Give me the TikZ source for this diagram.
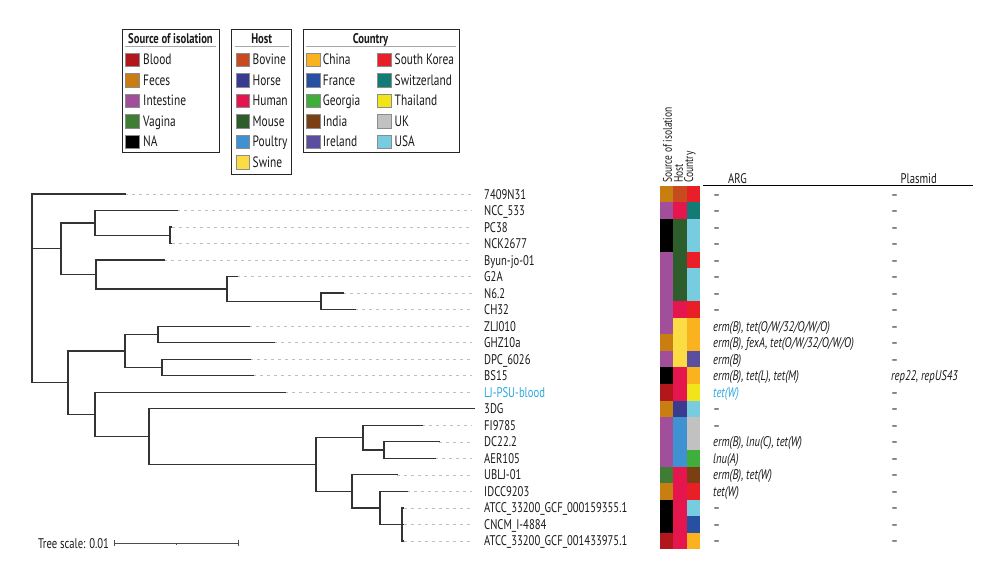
\documentclass[tikz,border=0pt]{standalone}
\usepackage{fontspec}
\setmainfont{PT Sans}[FakeStretch=0.76]
\definecolor{cBlood}{HTML}{B2171C}
\definecolor{cFeces}{HTML}{C97E12}
\definecolor{cIntestine}{HTML}{A24F9B}
\definecolor{cVagina}{HTML}{3E7D33}
\definecolor{cNA}{HTML}{000000}
\definecolor{cBovine}{HTML}{C84B1F}
\definecolor{cHorse}{HTML}{3B3A91}
\definecolor{cHuman}{HTML}{E5154E}
\definecolor{cMouse}{HTML}{2D5D2B}
\definecolor{cPoultry}{HTML}{3F92D2}
\definecolor{cSwine}{HTML}{FCDC45}
\definecolor{cChina}{HTML}{FBB21F}
\definecolor{cFrance}{HTML}{2750A3}
\definecolor{cGeorgia}{HTML}{3FAE3A}
\definecolor{cIndia}{HTML}{7B3F14}
\definecolor{cIreland}{HTML}{5A4E9F}
\definecolor{cSKorea}{HTML}{E81F27}
\definecolor{cSwitz}{HTML}{137B76}
\definecolor{cThai}{HTML}{F1E51A}
\definecolor{cUK}{HTML}{C1C1C1}
\definecolor{cUSA}{HTML}{78CCE0}
\definecolor{cHL}{HTML}{2AA8E0}
\definecolor{txt}{HTML}{1A1A1A}
\definecolor{treecol}{HTML}{333333}
\newcommand\tbranch[2]{\draw[branch] (#1 |- #2) -- (#2);}
\newcommand\tvert[3]{\draw[branch] (#1 |- #2) -- (#1 |- #3);}
\begin{document}
\begin{tikzpicture}[x=1pt,y=-1pt,
  branch/.style={draw=treecol, line width=1.25pt, line cap=rect},
  leader/.style={draw=black!25, line width=0.6pt, dash pattern=on 3pt off 4pt, shorten >=8pt},
  leaf/.style={anchor=base west, inner sep=0pt, text=txt, font=\fontsize{14}{16}\selectfont},
  argtxt/.style={anchor=base west, inner sep=0pt, text=txt, font=\fontsize{14}{16}\selectfont\itshape},
  dashtxt/.style={anchor=base west, inner sep=0pt, text=txt, font=\fontsize{14}{16}\selectfont},
  hdr/.style={anchor=base west, inner sep=0pt, text=txt, font=\fontsize{14}{16}\selectfont},
  colhdr/.style={anchor=west, rotate=90, inner sep=0pt, text=txt, font=\fontsize{12.5}{14}\selectfont},
  legbox/.style={draw=black!85, line width=0.9pt},
  legtitle/.style={anchor=base, inner sep=0pt, text=txt, font=\fontsize{14}{16}\selectfont\bfseries},
  legtxt/.style={anchor=base west, inner sep=0pt, text=txt, font=\fontsize{15}{17}\selectfont},
  swatch/.style={draw=black!45, line width=0.5pt, minimum width=13.5pt, minimum height=13.5pt, inner sep=0pt},
  rule/.style={draw=black!35, line width=0.8pt}
]
\useasboundingbox (0,0) rectangle (1000,584);

% ---------------- legends ----------------
\draw[legbox] (122,29) rectangle (219,152);
\node[legtitle] (lt1) at (170.5,43) {Source of isolation};
\coordinate (u1a) at (125,46.7); \coordinate (u1b) at (216,46.7);
\draw[rule] (u1a) -- (u1b);
\node[swatch, fill=cBlood]     (s11) at (132,59.5)  {};
\node[swatch, fill=cFeces]     (s12) at (132,80.0)  {};
\node[swatch, fill=cIntestine] (s13) at (132,100.5) {};
\node[swatch, fill=cVagina]    (s14) at (132,121.0) {};
\node[swatch, fill=cNA]        (s15) at (132,141.5) {};
\node[legtxt] (e11) at (143,64.8)  {Blood};
\node[legtxt] (e12) at (143,85.3)  {Feces};
\node[legtxt] (e13) at (143,105.8) {Intestine};
\node[legtxt] (e14) at (143,126.3) {Vagina};
\node[legtxt] (e15) at (143,146.8) {NA};

\draw[legbox] (231.7,29) rectangle (291.7,174);
\node[legtitle] (lt2) at (261.7,43) {Host};
\coordinate (u2a) at (234.5,46.7); \coordinate (u2b) at (289,46.7);
\draw[rule] (u2a) -- (u2b);
\node[swatch, fill=cBovine]  (s21) at (242.5,59.5)  {};
\node[swatch, fill=cHorse]   (s22) at (242.5,80.0)  {};
\node[swatch, fill=cHuman]   (s23) at (242.5,100.5) {};
\node[swatch, fill=cMouse]   (s24) at (242.5,121.0) {};
\node[swatch, fill=cPoultry] (s25) at (242.5,141.5) {};
\node[swatch, fill=cSwine]   (s26) at (242.5,162.0) {};
\node[legtxt] (e21) at (252.5,64.8)  {Bovine};
\node[legtxt] (e22) at (252.5,85.3)  {Horse};
\node[legtxt] (e23) at (252.5,105.8) {Human};
\node[legtxt] (e24) at (252.5,126.3) {Mouse};
\node[legtxt] (e25) at (252.5,146.8) {Poultry};
\node[legtxt] (e26) at (252.5,167.3) {Swine};

\draw[legbox] (303.3,29) rectangle (459,152.7);
\node[legtitle] (lt3) at (370.5,43) {Country};
\coordinate (u3a) at (306,46.7); \coordinate (u3b) at (456,46.7);
\draw[rule] (u3a) -- (u3b);
\node[swatch, fill=cChina]   (s31) at (313.2,59.5)  {};
\node[swatch, fill=cFrance]  (s32) at (313.2,80.0)  {};
\node[swatch, fill=cGeorgia] (s33) at (313.2,100.5) {};
\node[swatch, fill=cIndia]   (s34) at (313.2,121.0) {};
\node[swatch, fill=cIreland] (s35) at (313.2,141.5) {};
\node[legtxt] (e31) at (322.7,64.8)  {China};
\node[legtxt] (e32) at (322.7,85.3)  {France};
\node[legtxt] (e33) at (322.7,105.8) {Georgia};
\node[legtxt] (e34) at (322.7,126.3) {India};
\node[legtxt] (e35) at (322.7,146.8) {Ireland};
\node[swatch, fill=cSKorea]  (s36) at (384.2,59.5)  {};
\node[swatch, fill=cSwitz]   (s37) at (384.2,80.0)  {};
\node[swatch, fill=cThai]    (s38) at (384.2,100.5) {};
\node[swatch, fill=cUK]      (s39) at (384.2,121.0) {};
\node[swatch, fill=cUSA]     (s310) at (384.2,141.5) {};
\node[legtxt] (e36) at (394.5,64.8)  {South Korea};
\node[legtxt] (e37) at (394.5,85.3)  {Switzerland};
\node[legtxt] (e38) at (394.5,105.8) {Thailand};
\node[legtxt] (e39) at (394.5,126.3) {UK};
\node[legtxt] (e310) at (394.5,146.8) {USA};

% ---------------- tree ----------------
\coordinate (t0) at (125,194.0);
\coordinate (t1) at (177,210.5);
\coordinate (t2) at (171.5,227.0);
\coordinate (t3) at (171.5,243.6);
\coordinate (t4) at (164,260.1);
\coordinate (t5) at (237,276.6);
\coordinate (t6) at (343,293.1);
\coordinate (t7) at (355,309.6);
\coordinate (t8) at (249,326.2);
\coordinate (t9) at (274,342.7);
\coordinate (t10) at (250,359.2);
\coordinate (t11) at (253,375.7);
\coordinate (t12) at (285,392.2);
\coordinate (t13) at (474,408.8);
\coordinate (t14) at (422,425.3);
\coordinate (t15) at (439,441.8);
\coordinate (t16) at (435,458.3);
\coordinate (t17) at (397,474.8);
\coordinate (t18) at (407,491.4);
\coordinate (t19) at (403.5,507.9);
\coordinate (t20) at (403.5,524.4);
\coordinate (t21) at (403.5,540.9);

\coordinate (root) at (32,288);
\coordinate (A)  at (61,248.7);
\coordinate (A1) at (95,222.9);
\coordinate (P)  at (170,235.3);
\coordinate (A2) at (96,274.5);
\coordinate (Q)  at (227,289.0);
\coordinate (R)  at (321,301.35);
\coordinate (B)  at (68,382.7);
\coordinate (B1) at (125,350.95);
\coordinate (S)  at (158,334.45);
\coordinate (T)  at (162,367.45);
\coordinate (B2) at (95,414.4);
\coordinate (U)  at (149,436.6);
\coordinate (V)  at (316,464.5);
\coordinate (W)  at (363,437.7);
\coordinate (X)  at (384,450.05);
\coordinate (Y)  at (352,491.35);
\coordinate (Z)  at (380,507.9);
\coordinate (Z2) at (402,524.4);

% leaders (drawn first, under branches)
\foreach \k in {0,1,2,3,4,5,6,7,8,9,10,11,12,14,15,16,17,18,19,20,21}{
  \draw[leader] (t\k) -- (t\k -| 480,0);
}

\tvert{root}{t0}{B} \tbranch{root}{t0} \tbranch{root}{A} \tbranch{root}{B}
\tvert{A}{A1}{A2} \tbranch{A}{A1} \tbranch{A}{A2}
\tvert{A1}{t1}{P} \tbranch{A1}{t1} \tbranch{A1}{P}
\tvert{P}{t2}{t3} \tbranch{P}{t2} \tbranch{P}{t3}
\tvert{A2}{t4}{Q} \tbranch{A2}{t4} \tbranch{A2}{Q}
\tvert{Q}{t5}{R} \tbranch{Q}{t5} \tbranch{Q}{R}
\tvert{R}{t6}{t7} \tbranch{R}{t6} \tbranch{R}{t7}
\tvert{B}{B1}{B2} \tbranch{B}{B1} \tbranch{B}{B2}
\tvert{B1}{S}{T} \tbranch{B1}{S} \tbranch{B1}{T}
\tvert{S}{t8}{t9} \tbranch{S}{t8} \tbranch{S}{t9}
\tvert{T}{t10}{t11} \tbranch{T}{t10} \tbranch{T}{t11}
\tvert{B2}{t12}{U} \tbranch{B2}{t12} \tbranch{B2}{U}
\tvert{U}{t13}{V} \tbranch{U}{t13} \tbranch{U}{V}
\tvert{V}{W}{Y} \tbranch{V}{W} \tbranch{V}{Y}
\tvert{W}{t14}{X} \tbranch{W}{t14} \tbranch{W}{X}
\tvert{X}{t15}{t16} \tbranch{X}{t15} \tbranch{X}{t16}
\tvert{Y}{t17}{Z} \tbranch{Y}{t17} \tbranch{Y}{Z}
\tvert{Z}{t18}{Z2} \tbranch{Z}{t18} \tbranch{Z}{Z2}
\tvert{Z2}{t19}{t21} \tbranch{Z2}{t19} \tbranch{Z2}{t20} \tbranch{Z2}{t21}

% ---------------- leaf labels ----------------
\node[leaf] (l0)  at (484,199.0) {7409N31};
\node[leaf] (l1)  at (484,215.5) {NCC\_533};
\node[leaf] (l2)  at (484,232.0) {PC38};
\node[leaf] (l3)  at (484,248.6) {NCK2677};
\node[leaf] (l4)  at (484,265.1) {Byun-jo-01};
\node[leaf] (l5)  at (484,281.6) {G2A};
\node[leaf] (l6)  at (484,298.1) {N6.2};
\node[leaf] (l7)  at (484,314.6) {CH32};
\node[leaf] (l8)  at (484,331.2) {ZLJ010};
\node[leaf] (l9)  at (484,347.7) {GHZ10a};
\node[leaf] (l10) at (484,364.2) {DPC\_6026};
\node[leaf] (l11) at (484,380.7) {BS15};
\node[leaf, text=cHL] (l12) at (484,397.2) {LJ-PSU-blood};
\node[leaf] (l13) at (484,413.8) {3DG};
\node[leaf] (l14) at (484,430.3) {FI9785};
\node[leaf] (l15) at (484,446.8) {DC22.2};
\node[leaf] (l16) at (484,463.3) {AER105};
\node[leaf] (l17) at (484,479.8) {UBLJ-01};
\node[leaf] (l18) at (484,496.4) {IDCC9203};
\node[leaf] (l19) at (484,512.9) {ATCC\_33200\_GCF\_000159355.1};
\node[leaf] (l20) at (484,529.4) {CNCM\_I-4884};
\node[leaf] (l21) at (484,545.9) {ATCC\_33200\_GCF\_001433975.1};

% ---------------- heatmap ----------------
\foreach \s/\h/\c [count=\i from 0] in {
  cFeces/cBovine/cSKorea, cIntestine/cHuman/cSwitz, cNA/cMouse/cUSA, cNA/cMouse/cUSA,
  cIntestine/cMouse/cSKorea, cIntestine/cMouse/cUSA, cIntestine/cMouse/cUSA, cIntestine/cHuman/cSKorea,
  cIntestine/cSwine/cChina, cFeces/cSwine/cChina, cIntestine/cSwine/cIreland, cNA/cHuman/cChina,
  cBlood/cHuman/cThai, cFeces/cHorse/cUSA, cIntestine/cPoultry/cUK, cIntestine/cPoultry/cUK,
  cIntestine/cPoultry/cGeorgia, cVagina/cHuman/cIndia, cFeces/cHuman/cSKorea, cNA/cHuman/cUSA,
  cNA/cHuman/cFrance, cBlood/cHuman/cChina}{
  \pgfmathsetmacro\yt{185.74+16.52*\i}
  \fill[\s] (660,\yt) rectangle ++(13.5,16.7);
  \fill[\h] (673.3,\yt) rectangle ++(13.5,16.7);
  \fill[\c] (686.7,\yt) rectangle ++(13.3,16.7);
}
\node[colhdr] (ch1) at (667.5,183) {Source of isolation};
\node[colhdr] (ch2) at (678.5,183) {Host};
\node[colhdr] (ch3) at (690,183) {Country};

% ---------------- table ----------------
\node[hdr] (hARG) at (728,183) {ARG};
\node[hdr] (hPl)  at (900.5,183) {Plasmid};
\coordinate (h1) at (703,185.7); \coordinate (h2) at (973,185.7);
\draw[black, line width=1.5pt] (h1) -- (h2);

\node[dashtxt] (a0)  at (713,199.0) {–};
\node[dashtxt] (a1)  at (713,215.5) {–};
\node[dashtxt] (a2)  at (713,232.0) {–};
\node[dashtxt] (a3)  at (713,248.6) {–};
\node[dashtxt] (a4)  at (713,265.1) {–};
\node[dashtxt] (a5)  at (713,281.6) {–};
\node[dashtxt] (a6)  at (713,298.1) {–};
\node[dashtxt] (a7)  at (713,314.6) {–};
\node[argtxt] (a8)  at (713,331.2) {erm(B), tet(O/W/32/O/W/O)};
\node[argtxt] (a9)  at (713,347.7) {erm(B), fexA, tet(O/W/32/O/W/O)};
\node[argtxt] (a10) at (713,364.2) {erm(B)};
\node[argtxt] (a11) at (713,380.7) {erm(B), tet(L), tet(M)};
\node[argtxt, text=cHL] (a12) at (713,397.2) {tet(W)};
\node[dashtxt] (a13) at (713,413.8) {–};
\node[dashtxt] (a14) at (713,430.3) {–};
\node[argtxt] (a15) at (713,446.8) {erm(B), lnu(C), tet(W)};
\node[argtxt] (a16) at (713,463.3) {lnu(A)};
\node[argtxt] (a17) at (713,479.8) {erm(B), tet(W)};
\node[argtxt] (a18) at (713,496.4) {tet(W)};
\node[dashtxt] (a19) at (713,512.9) {–};
\node[dashtxt] (a20) at (713,529.4) {–};
\node[dashtxt] (a21) at (713,545.9) {–};

\foreach \k/\yy in {0/199.0,1/215.5,2/232.0,3/248.6,4/265.1,5/281.6,6/298.1,7/314.6,8/331.2,9/347.7,10/364.2,12/397.2,13/413.8,14/430.3,15/446.8,16/463.3,17/479.8,18/496.4,19/512.9,20/529.4,21/545.9}{
  \node[dashtxt] (p\k) at (891,\yy) {–};
}
\node[argtxt] (p11) at (891,380.7) {rep22, repUS43};

% ---------------- tree scale ----------------
\node[leaf] (ts) at (38,548) {Tree scale: 0.01};
\coordinate (sb1) at (114,543.3); \coordinate (sb2) at (238,543.3); \coordinate (sbm) at (176,543.3);
\draw[black!70, line width=0.8pt] (sb1) -- (sb2);
\draw[black!70, line width=0.8pt] ([yshift=3pt]sb1) -- ([yshift=-3pt]sb1);
\draw[black!70, line width=0.8pt] ([yshift=3pt]sb2) -- ([yshift=-3pt]sb2);
\draw[black!70, line width=0.6pt] (sbm) -- ([yshift=-1.5pt]sbm);
\end{tikzpicture}
\end{document}
